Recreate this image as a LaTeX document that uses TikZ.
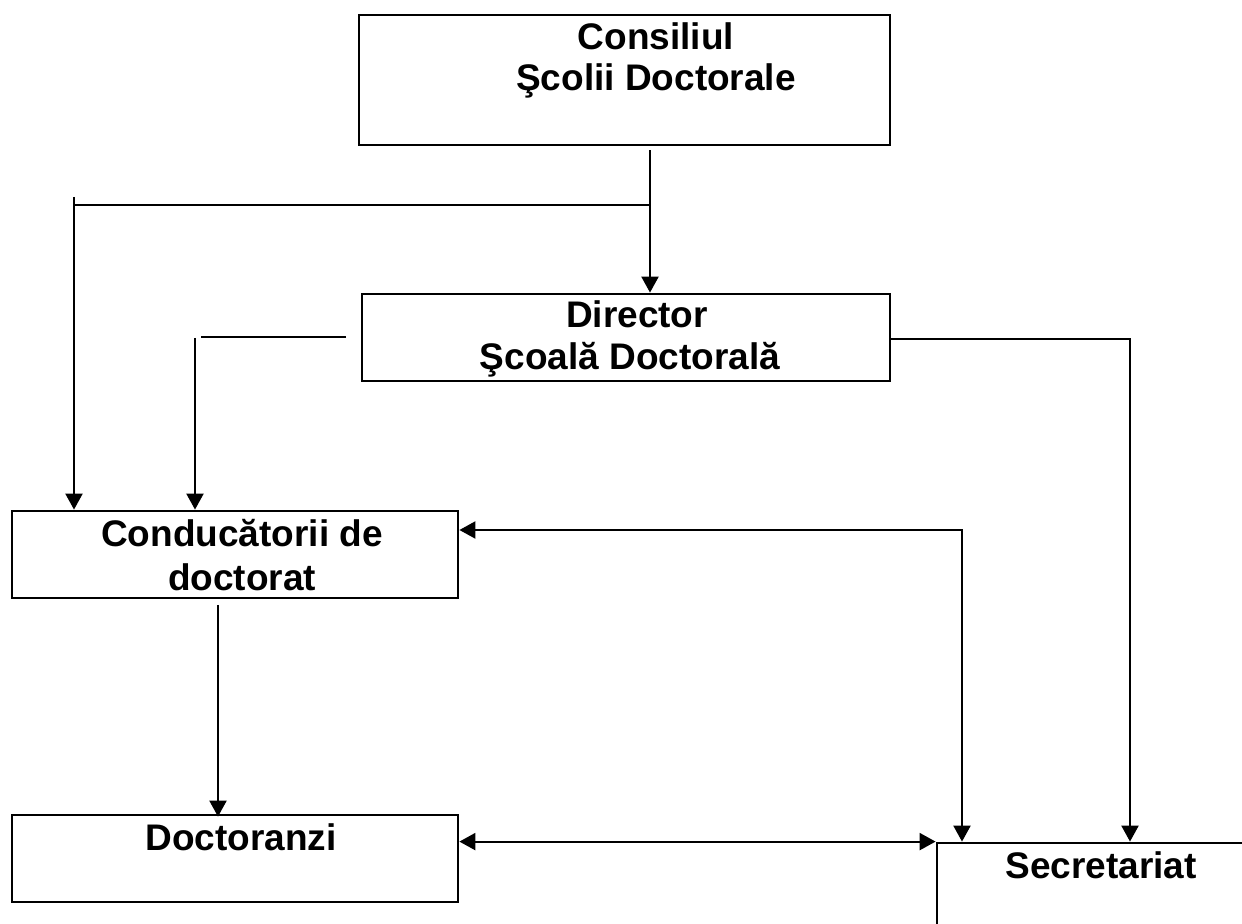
\documentclass[tikz,border=0pt]{standalone}
\usepackage{fontspec}
\setmainfont{Liberation Sans}
\usetikzlibrary{arrows.meta,calc,fit}
\tikzset{
  box/.style={draw, line width=1.4pt, inner sep=0pt},
  lbl/.style={anchor=base, inner sep=0pt, font=\fontsize{18.5pt}{22pt}\selectfont\bfseries},
  conn/.style={line width=1.1pt},
  tip/.tip={Triangle[length=8pt,width=8.5pt]},
  arr/.style={conn, -tip},
  arrtwo/.style={conn, tip-tip}
}
\begin{document}
\begin{tikzpicture}[x=0.5pt,y=-0.5pt]
\useasboundingbox (0,0) rectangle (1242,924);
\clip (0,0) rectangle (1242,924);
% boxes
\node[box, fit={(359,15) (890,145)}] (cons) {};
\node[box, fit={(362,294) (890,381)}] (dir) {};
\node[box, fit={(12,511) (458,598)}] (cond) {};
\node[box, fit={(12,815) (458,902)}] (doct) {};
% Secretariat (only its top and left sides are visible)
\node[box, fit={(937,843) (1262,944)}] (secr) {};
% texts
\node[lbl] (t1) at (656,50) {Consiliul};
\node[lbl] (t2) at (656,91) {Şcolii Doctorale};
\node[lbl] (t3) at (637,328) {Director};
\node[lbl] (t4) at (630,370) {Şcoală Doctorală};
\node[lbl] (t5) at (242,547) {Conducătorii de};
\node[lbl] (t6) at (242,590) {doctorat};
\node[lbl] (t7) at (241,850) {Doctoranzi};
\node[lbl] (t8) at (1101,878) {Secretariat};
% junction coordinates
\coordinate (c1) at (650,205);
\coordinate (c2) at (74,197);
\coordinate (d1) at (346,337);
\coordinate (d2) at (201,337);
\coordinate (d3) at (195,338);
\coordinate (s1) at (1130,339);
\coordinate (s2) at (962,530);
\coordinate (s3) at (218,605);
% Consiliul -> Director
\draw[arr] ([yshift=-2pt]cons.south -| c1) -- (dir.north -| c1);
% Consiliul -> Conducatorii
\draw[conn] (c1) -- (c1 -| c2);
\draw[arr] (c2) -- (c2 |- cond.north);
% Director -> Conducatorii
\draw[conn] (d1) -- (d2);
\draw[arr] (d3) -- (d3 |- cond.north);
% Director -> Secretariat
\draw[arr] (dir.east |- s1) -- (s1) -- (s1 |- secr.north);
% Conducatorii <-> Secretariat
\draw[arrtwo] (cond.east |- s2) -- (s2) -- (s2 |- secr.north);
% Conducatorii -> Doctoranzi
\draw[arr] (s3) -- ([yshift=-1.5pt]s3 |- doct.north);
% Doctoranzi <-> Secretariat
\draw[arrtwo] (doct.east |- secr.north west) -- (secr.north west);
\end{tikzpicture}
\end{document}
